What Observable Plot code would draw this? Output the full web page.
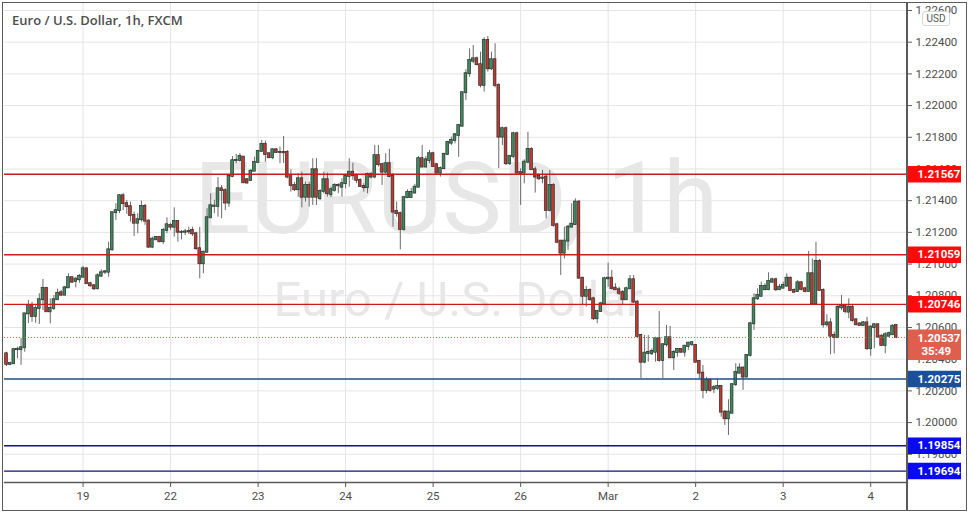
<!DOCTYPE html>
<html>
<head>
<meta charset="utf-8">
<script src="https://cdn.jsdelivr.net/npm/d3@7"></script>
<script src="https://cdn.jsdelivr.net/npm/@observablehq/plot@0.6"></script>
<style>
  body { margin: 0; background: #ffffff; }
  #wrap { position: relative; width: 972px; height: 514px; overflow: hidden; background: #fff; }
  #wrap svg { position: absolute; left: 0; top: 0; }
  .ov { position: absolute; pointer-events: none; }
  #border { left: 2px; top: 2px; width: 965px; height: 509px; border: 1.5px solid #5a5a5a; box-sizing: border-box; }
  #sep { left: 906.3px; top: 3px; width: 1.4px; height: 507px; background: #5a5a5a; }
  #title { left: 12px; top: 11px; font: 600 13px "Open Sans", sans-serif; color: #4d4d4d; white-space: nowrap; }
  #usd { left: 922px; top: 11px; width: 28px; height: 15px; border: 1px solid #d6d6d6; border-radius: 3px; background: #fff;
         font: 10px Roboto, sans-serif; color: #555; text-align: center; line-height: 13px; box-sizing: border-box; }
</style>
</head>
<body>
<div id="wrap"></div>
<script>
// ---- data (EUR/USD, 1h candles) ----
const open = [
1.20434,1.20367,1.20371,1.20460,1.20460,1.20472,1.20686,1.20737,1.20669,1.20720,
1.20775,1.20846,1.20699,1.20720,1.20775,1.20819,1.20804,1.20850,1.20914,1.20890,
1.20901,1.20917,1.20970,1.20876,1.20863,1.20844,1.20924,1.20949,1.20949,1.21090,
1.21324,1.21337,1.21431,1.21381,1.21362,1.21307,1.21258,1.21280,1.21364,1.21271,
1.21107,1.21153,1.21168,1.21141,1.21212,1.21244,1.21233,1.21269,1.21201,1.21201,
1.21203,1.21212,1.21191,1.21097,1.21002,1.21075,1.21292,1.21364,1.21364,1.21475,
1.21463,1.21385,1.21553,1.21652,1.21654,1.21675,1.21532,1.21528,1.21586,1.21641,
1.21711,1.21755,1.21696,1.21671,1.21721,1.21704,1.21704,1.21704,1.21560,1.21496,
1.21469,1.21538,1.21422,1.21496,1.21422,1.21595,1.21412,1.21458,1.21532,1.21439,
1.21465,1.21496,1.21485,1.21507,1.21553,1.21580,1.21557,1.21528,1.21490,1.21482,
1.21566,1.21549,1.21684,1.21627,1.21580,1.21633,1.21553,1.21332,1.21318,1.21219,
1.21419,1.21420,1.21448,1.21485,1.21665,1.21612,1.21654,1.21696,1.21627,1.21574,
1.21602,1.21692,1.21763,1.21780,1.21811,1.21870,1.22081,1.22201,1.22280,1.22295,
1.22258,1.22127,1.22411,1.22232,1.22289,1.22127,1.21801,1.21854,1.21633,1.21679,
1.21822,1.21577,1.21574,1.21643,1.21723,1.21595,1.21553,1.21540,1.21549,1.21338,
1.21496,1.21248,1.21145,1.21069,1.21145,1.21233,1.21250,1.21391,1.20911,1.20797,
1.20833,1.20781,1.20655,1.20701,1.20749,1.20907,1.20911,1.20848,1.20838,1.20821,
1.20775,1.20844,1.20901,1.20760,1.20550,1.20381,1.20436,1.20434,1.20444,1.20529,
1.20392,1.20491,1.20535,1.20409,1.20443,1.20462,1.20444,1.20480,1.20493,1.20487,
1.20386,1.20312,1.20203,1.20266,1.20211,1.20215,1.20228,1.20066,1.20024,1.20059,
1.20239,1.20312,1.20344,1.20287,1.20424,1.20623,1.20781,1.20797,1.20838,1.20838,
1.20886,1.20901,1.20838,1.20848,1.20861,1.20911,1.20833,1.20827,1.20882,1.20844,
1.20827,1.20939,1.20749,1.21016,1.20833,1.20617,1.20629,1.20550,1.20537,1.20724,
1.20734,1.20697,1.20728,1.20648,1.20623,1.20612,1.20629,1.20466,1.20600,1.20617,
1.20545,1.20487,1.20545,1.20554,1.20613
];
const high = [
1.20444,1.20381,1.20468,1.20476,1.20531,1.20690,1.20770,1.20758,1.20745,1.20813,
1.20903,1.20854,1.20781,1.20802,1.20842,1.20833,1.20859,1.20939,1.20917,1.20917,
1.20934,1.20985,1.20977,1.20886,1.20871,1.20939,1.20964,1.20960,1.21138,1.21328,
1.21381,1.21439,1.21444,1.21402,1.21391,1.21328,1.21318,1.21397,1.21376,1.21280,
1.21170,1.21174,1.21174,1.21225,1.21292,1.21258,1.21355,1.21275,1.21212,1.21220,
1.21233,1.21233,1.21201,1.21233,1.21081,1.21349,1.21444,1.21402,1.21545,1.21496,
1.21475,1.21566,1.21679,1.21692,1.21696,1.21679,1.21538,1.21595,1.21675,1.21717,
1.21780,1.21776,1.21700,1.21728,1.21728,1.21738,1.21805,1.21717,1.21595,1.21515,
1.21570,1.21580,1.21517,1.21517,1.21665,1.21665,1.21469,1.21580,1.21574,1.21485,
1.21507,1.21507,1.21538,1.21566,1.21665,1.21637,1.21570,1.21538,1.21507,1.21574,
1.21580,1.21749,1.21749,1.21637,1.21696,1.21725,1.21570,1.21391,1.21328,1.21427,
1.21469,1.21477,1.21503,1.21679,1.21749,1.21679,1.21717,1.21706,1.21633,1.21612,
1.21700,1.21775,1.21801,1.21822,1.21881,1.22085,1.22226,1.22358,1.22379,1.22306,
1.22337,1.22428,1.22436,1.22337,1.22390,1.22138,1.21864,1.21864,1.21686,1.21832,
1.21832,1.21602,1.21658,1.21832,1.21734,1.21612,1.21570,1.21591,1.21559,1.21591,
1.21507,1.21258,1.21149,1.21233,1.21244,1.21381,1.21412,1.21402,1.20917,1.20859,
1.20844,1.20791,1.20707,1.20759,1.20917,1.21006,1.20960,1.20876,1.20854,1.20833,
1.20854,1.20928,1.20928,1.20770,1.20556,1.20550,1.20550,1.20466,1.20539,1.20701,
1.20497,1.20613,1.20607,1.20455,1.20466,1.20466,1.20487,1.20508,1.20508,1.20493,
1.20392,1.20360,1.20286,1.20276,1.20234,1.20276,1.20234,1.20076,1.20144,1.20245,
1.20371,1.20371,1.20350,1.20430,1.20633,1.20813,1.20844,1.20886,1.20876,1.20945,
1.20911,1.20911,1.20871,1.20886,1.20939,1.20917,1.20844,1.20896,1.20890,1.20854,
1.21080,1.21033,1.21138,1.21029,1.20844,1.20680,1.20655,1.20571,1.20739,1.20802,
1.20743,1.20781,1.20739,1.20655,1.20629,1.20637,1.20665,1.20613,1.20624,1.20624,
1.20554,1.20567,1.20571,1.20617,1.20617
];
const low = [
1.20354,1.20359,1.20366,1.20403,1.20361,1.20444,1.20625,1.20633,1.20627,1.20619,
1.20707,1.20695,1.20623,1.20707,1.20770,1.20796,1.20800,1.20846,1.20879,1.20850,
1.20879,1.20914,1.20871,1.20854,1.20833,1.20838,1.20917,1.20934,1.20917,1.21081,
1.21275,1.21318,1.21338,1.21313,1.21265,1.21174,1.21191,1.21265,1.21244,1.21098,
1.21097,1.21149,1.21134,1.21124,1.21191,1.21212,1.21170,1.21138,1.21153,1.21180,
1.21187,1.21174,1.21086,1.20907,1.20939,1.21069,1.21286,1.21318,1.21296,1.21286,
1.21338,1.21359,1.21545,1.21633,1.21643,1.21507,1.21507,1.21523,1.21583,1.21637,
1.21706,1.21643,1.21665,1.21658,1.21698,1.21633,1.21635,1.21538,1.21454,1.21458,
1.21422,1.21355,1.21391,1.21359,1.21370,1.21370,1.21402,1.21444,1.21422,1.21419,
1.21454,1.21444,1.21422,1.21475,1.21485,1.21528,1.21507,1.21485,1.21454,1.21444,
1.21538,1.21538,1.21612,1.21496,1.21570,1.21545,1.21233,1.21296,1.21090,1.21208,
1.21412,1.21414,1.21444,1.21482,1.21608,1.21608,1.21633,1.21612,1.21566,1.21549,
1.21595,1.21686,1.21748,1.21759,1.21674,1.21864,1.22032,1.22179,1.22264,1.22251,
1.22112,1.22085,1.22211,1.22221,1.22112,1.21602,1.21748,1.21622,1.21622,1.21665,
1.21570,1.21370,1.21507,1.21633,1.21591,1.21448,1.21528,1.21507,1.21286,1.21328,
1.21233,1.21128,1.20928,1.21033,1.21086,1.21229,1.21244,1.20907,1.20739,1.20728,
1.20766,1.20644,1.20623,1.20695,1.20739,1.20854,1.20838,1.20833,1.20802,1.20739,
1.20770,1.20838,1.20749,1.20529,1.20277,1.20371,1.20381,1.20424,1.20381,1.20381,
1.20277,1.20476,1.20403,1.20329,1.20413,1.20438,1.20413,1.20455,1.20480,1.20375,
1.20277,1.20150,1.20182,1.20192,1.20182,1.20203,1.20034,1.19982,1.19919,1.20056,
1.20228,1.20306,1.20203,1.20283,1.20413,1.20581,1.20770,1.20791,1.20833,1.20833,
1.20879,1.20827,1.20833,1.20844,1.20854,1.20827,1.20819,1.20822,1.20831,1.20818,
1.20822,1.20743,1.20743,1.20827,1.20596,1.20602,1.20428,1.20434,1.20529,1.20707,
1.20686,1.20655,1.20633,1.20612,1.20608,1.20608,1.20455,1.20419,1.20466,1.20533,
1.20480,1.20434,1.20539,1.20550,1.20529
];
const close = [
1.20367,1.20372,1.20460,1.20462,1.20472,1.20686,1.20737,1.20669,1.20720,1.20775,
1.20846,1.20699,1.20720,1.20775,1.20816,1.20804,1.20850,1.20914,1.20886,1.20905,
1.20922,1.20970,1.20876,1.20863,1.20844,1.20926,1.20945,1.20951,1.21090,1.21324,
1.21337,1.21431,1.21381,1.21362,1.21307,1.21258,1.21280,1.21364,1.21271,1.21107,
1.21157,1.21168,1.21141,1.21212,1.21248,1.21233,1.21269,1.21201,1.21199,1.21203,
1.21205,1.21191,1.21097,1.21002,1.21075,1.21292,1.21368,1.21366,1.21475,1.21463,
1.21385,1.21553,1.21652,1.21654,1.21679,1.21513,1.21511,1.21586,1.21641,1.21711,
1.21755,1.21692,1.21671,1.21721,1.21704,1.21704,1.21702,1.21549,1.21496,1.21469,
1.21538,1.21422,1.21496,1.21422,1.21595,1.21422,1.21458,1.21532,1.21444,1.21469,
1.21496,1.21494,1.21507,1.21553,1.21580,1.21557,1.21528,1.21490,1.21482,1.21566,
1.21549,1.21684,1.21627,1.21580,1.21633,1.21553,1.21328,1.21318,1.21219,1.21419,
1.21452,1.21452,1.21485,1.21665,1.21612,1.21658,1.21696,1.21616,1.21574,1.21602,
1.21692,1.21767,1.21780,1.21816,1.21874,1.22081,1.22201,1.22285,1.22295,1.22258,
1.22127,1.22411,1.22232,1.22289,1.22127,1.21801,1.21854,1.21633,1.21679,1.21822,
1.21574,1.21570,1.21643,1.21723,1.21595,1.21549,1.21538,1.21543,1.21338,1.21496,
1.21244,1.21138,1.21069,1.21145,1.21233,1.21250,1.21391,1.20911,1.20797,1.20833,
1.20775,1.20655,1.20701,1.20749,1.20907,1.20911,1.20844,1.20838,1.20816,1.20775,
1.20844,1.20901,1.20760,1.20544,1.20381,1.20438,1.20443,1.20449,1.20529,1.20392,
1.20491,1.20535,1.20409,1.20443,1.20462,1.20444,1.20482,1.20501,1.20504,1.20381,
1.20312,1.20203,1.20266,1.20203,1.20220,1.20228,1.20066,1.20024,1.20066,1.20239,
1.20316,1.20344,1.20287,1.20424,1.20623,1.20781,1.20802,1.20859,1.20859,1.20890,
1.20901,1.20838,1.20854,1.20865,1.20911,1.20833,1.20822,1.20882,1.20840,1.20827,
1.20939,1.20749,1.21016,1.20833,1.20617,1.20629,1.20545,1.20537,1.20728,1.20734,
1.20701,1.20728,1.20644,1.20617,1.20612,1.20629,1.20466,1.20602,1.20617,1.20539,
1.20487,1.20554,1.20561,1.20608,1.20537
];
// time axis: bar index of each day start and its label
const dayTicks  = [21, 45, 69, 93, 117, 141, 165, 189, 213, 237];
const dayLabels = ["19", "22", "23", "24", "25", "26", "Mar", "2", "3", "4"];
// price axis ticks
const priceTicks = [1.198, 1.200, 1.202, 1.204, 1.206, 1.208, 1.210, 1.212, 1.214, 1.216, 1.218, 1.220, 1.222, 1.224, 1.226];
// horizontal support / resistance levels
const levels      = [1.21567, 1.21059, 1.20746, 1.20275, 1.19854, 1.19694];
const levelKinds  = ["res", "res", "res", "sup1", "sup2", "sup2"];
const countdown   = "35:49";
const titleText   = "Euro / U.S. Dollar, 1h, FXCM";
const wmSymbol    = "EURUSD, 1h";
const wmName      = "Euro / U.S. Dollar";

// ---- styles ----
const lineColor  = {res: "#cc1a1a", sup1: "#1d4f86", sup2: "#10108a"};
const badgeColor = {res: "#ff0a0a", sup1: "#1a4f9c", sup2: "#0a0af0"};
const upFill = "#3d8b5e", downFill = "#c13a2f";
const lastColor = "#df5f4f";

const candles = open.map((o, i) => ({i, o, h: high[i], l: low[i], c: close[i], up: close[i] >= o}));
const lastClose = close[close.length - 1];
const lv = levels.map((v, k) => ({v, kind: levelKinds[k]}));

const W = 972, H = 514, mL = 4, mR = 65, mT = 3, mB = 32;
const badgeInsetLeft = (W - mL - mR);   // badge starts at the plot's right edge
const badgeInsetRight = -54;            // badge width into the axis

const chart = Plot.plot({
  width: W, height: H,
  marginLeft: mL, marginRight: mR, marginTop: mT, marginBottom: mB,
  x: {domain: [-0.55, 247.1], axis: null, label: null},
  y: {domain: [1.19622, 1.22644], axis: null, label: null},
  style: {background: "transparent", fontFamily: "Roboto, sans-serif"},
  marks: [
    Plot.gridX(dayTicks, {stroke: "#e4e4e4", strokeOpacity: 1}),
    Plot.gridY(priceTicks, {stroke: "#e4e4e4", strokeOpacity: 1}),
    Plot.text([wmSymbol], {text: d => d, frameAnchor: "middle", lineAnchor: "bottom", dy: -10.5,
      fontSize: 100, fontFamily: "Roboto", fill: "#e7e7e7", ariaLabel: "wm1"}),
    Plot.text([wmName], {text: d => d, frameAnchor: "middle", lineAnchor: "bottom", dx: 2, dy: 72.5,
      fontSize: 49, fontFamily: "Roboto", fill: "#e7e7e7", ariaLabel: "wm2"}),
    // candles
    Plot.ruleX(candles, {x: "i", y1: "l", y2: "h", stroke: "#6a6a6a", strokeWidth: 1}),
    Plot.rect(candles, {
      x1: d => d.i - 0.37, x2: d => d.i + 0.37,
      y1: d => Math.min(d.o, d.c), y2: d => Math.max(d.o, d.c),
      insetTop: -0.5, insetBottom: -0.5,
      fill: d => d.up ? upFill : downFill, stroke: "#2b2b2b", strokeWidth: 0.7
    }),
    // levels
    Plot.ruleY(lv, {y: "v", stroke: d => lineColor[d.kind], strokeWidth: 1.4}),
    Plot.ruleY([lastClose], {stroke: lastColor, strokeWidth: 1, strokeDasharray: "1,2"}),
    Plot.frame({anchor: "bottom", stroke: "#5a5a5a", strokeWidth: 1.4}),
    // axes
    Plot.axisX(dayTicks, {anchor: "bottom", label: null, tickFormat: d => dayLabels[dayTicks.indexOf(d)],
      tickSize: 5, tickPadding: 4, fontSize: 11.5, fill: "#4d4d4d", stroke: "#5a5a5a"}),
    Plot.axisY(priceTicks, {anchor: "right", label: null, tickFormat: d => d.toFixed(5),
      tickSize: 4, tickPadding: 4, fontSize: 11.5, fill: "#4d4d4d", stroke: "#5a5a5a"}),
    // level badges on the price axis
    Plot.ruleY(lv, {y: "v", stroke: d => badgeColor[d.kind], strokeWidth: 16.5,
      insetLeft: badgeInsetLeft, insetRight: badgeInsetRight}),
    Plot.text(lv, {y: "v", text: d => d.v.toFixed(5), frameAnchor: "right", textAnchor: "start", dx: 10,
      fill: "#ffffff", fontWeight: "bold", fontSize: 11.5}),
    // last price badge
    Plot.ruleY([lastClose], {stroke: lastColor, strokeWidth: 30.5, dy: 7.3,
      insetLeft: badgeInsetLeft, insetRight: badgeInsetRight}),
    Plot.text([lastClose], {y: d => d, text: d => d.toFixed(5), frameAnchor: "right", textAnchor: "start",
      dx: 10, dy: 1, fill: "#ffffff", fontWeight: "bold", fontSize: 11.5}),
    Plot.text([lastClose], {y: d => d, text: () => countdown, frameAnchor: "right", textAnchor: "start",
      dx: 14, dy: 13.7, fill: "#ffffff", fontWeight: "bold", fontSize: 11.5})
  ]
});

const wrap = document.getElementById("wrap");
wrap.appendChild(chart);
// stretch watermark texts to the reference's widths
d3.select(chart).selectAll('g[aria-label="wm1"] text').attr("textLength", 494).attr("lengthAdjust", "spacingAndGlyphs");
d3.select(chart).selectAll('g[aria-label="wm2"] text').attr("textLength", 381).attr("lengthAdjust", "spacingAndGlyphs");

function overlay(id, text) {
  const d = document.createElement("div");
  d.className = "ov"; d.id = id; if (text) d.textContent = text;
  wrap.appendChild(d);
}
overlay("border");
overlay("sep");
overlay("title", titleText);
overlay("usd", "USD");
</script>
</body>
</html>
